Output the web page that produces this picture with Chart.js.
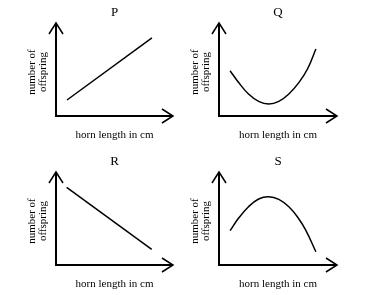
<!DOCTYPE html>
<html><head><meta charset="utf-8">
<script src="https://cdn.jsdelivr.net/npm/chart.js@4"></script>
<style>
html,body{margin:0;padding:0;background:#fff;}
#wrap{position:relative;width:370px;height:295px;background:#fff;}
canvas{position:absolute;}
</style></head><body>
<div id="wrap">
<canvas id="cP" style="left:0;top:0;width:185px;height:148px"></canvas>
<canvas id="cQ" style="left:185px;top:0;width:185px;height:148px"></canvas>
<canvas id="cR" style="left:0;top:148px;width:185px;height:147px"></canvas>
<canvas id="cS" style="left:185px;top:148px;width:185px;height:147px"></canvas>
</div>
<script>
const panelTitles = ['P', 'Q', 'R', 'S'];
const xAxisLabel = 'horn length in cm';
const yAxisLabel = ['number of', 'offspring'];

const hornP = [0.94, 8.2];
const offspringP = [1.72, 8.39];

const hornQ = [0.94, 1.65, 2.50, 3.36, 4.21, 5.07, 5.92, 6.78, 7.50, 8.21];
const offspringQ = [4.87, 3.62, 2.37, 1.58, 1.29, 1.58, 2.37, 3.62, 5.05, 7.20];

const hornR = [0.91, 8.18];
const offspringR = [8.35, 1.67];

const hornS = [0.94, 1.65, 2.50, 3.36, 4.21, 5.07, 5.92, 6.64, 7.35, 8.21];
const offspringS = [3.69, 5.02, 6.27, 7.10, 7.34, 7.06, 6.27, 5.19, 3.76, 1.43];

const panels = [
  {id: 'cP', title: panelTitles[0], xs: hornP, ys: offspringP, curved: false, w: 185, h: 148, pad: {left: 56, right: 12, top: 23, bottom: 32}},
  {id: 'cQ', title: panelTitles[1], xs: hornQ, ys: offspringQ, curved: true,  w: 185, h: 148, pad: {left: 34, right: 33, top: 23, bottom: 32}},
  {id: 'cR', title: panelTitles[2], xs: hornR, ys: offspringR, curved: false, w: 185, h: 147, pad: {left: 56, right: 12, top: 24, bottom: 30}},
  {id: 'cS', title: panelTitles[3], xs: hornS, ys: offspringS, curved: true,  w: 185, h: 147, pad: {left: 34, right: 33, top: 24, bottom: 30}}
];

const axesPlugin = {
  id: 'arrowAxes',
  afterDraw(chart, args, opts) {
    const {ctx, chartArea: a} = chart;
    ctx.save();
    ctx.strokeStyle = '#000';
    ctx.lineWidth = 2;
    ctx.lineJoin = 'miter';
    ctx.beginPath();
    ctx.moveTo(a.left, a.top);
    ctx.lineTo(a.left, a.bottom);
    ctx.lineTo(a.right, a.bottom);
    ctx.stroke();
    ctx.lineWidth = 1.5;
    ctx.beginPath();
    ctx.moveTo(a.left - 7, a.top + 11);
    ctx.lineTo(a.left, a.top);
    ctx.lineTo(a.left + 7, a.top + 11);
    ctx.moveTo(a.right - 11, a.bottom - 7);
    ctx.lineTo(a.right, a.bottom);
    ctx.lineTo(a.right - 11, a.bottom + 7);
    ctx.stroke();

    ctx.fillStyle = '#000';
    ctx.textAlign = 'center';
    ctx.textBaseline = 'middle';
    const cx = (a.left + a.right) / 2;
    ctx.font = '13px "Liberation Serif", "Times New Roman", serif';
    ctx.fillText(opts.title, cx, a.top - 10);
    ctx.font = '11px "Liberation Serif", "Times New Roman", serif';
    ctx.fillText(xAxisLabel, cx, a.bottom + 19);
    const cy = a.top + 49;
    ctx.save();
    ctx.translate(a.left - 24, cy);
    ctx.rotate(-Math.PI / 2);
    ctx.fillText(yAxisLabel[0], 0, 0);
    ctx.restore();
    ctx.save();
    ctx.translate(a.left - 13, cy);
    ctx.rotate(-Math.PI / 2);
    ctx.fillText(yAxisLabel[1], 0, 0);
    ctx.restore();
    ctx.restore();
  }
};

panels.forEach(p => {
  const el = document.getElementById(p.id);
  el.width = p.w; el.height = p.h;
  new Chart(el, {
    type: 'line',
    data: {
      datasets: [{
        data: p.xs.map((x, i) => ({x: x, y: p.ys[i]})),
        borderColor: '#000',
        borderWidth: 1.5,
        pointRadius: 0,
        fill: false,
        tension: p.curved ? 0.4 : 0,
        clip: false
      }]
    },
    options: {
      responsive: false,
      animation: false,
      devicePixelRatio: 1,
      layout: {padding: p.pad},
      plugins: {legend: {display: false}, tooltip: {enabled: false}, title: {display: false}, arrowAxes: {title: p.title}},
      scales: {
        x: {type: 'linear', min: 0, max: 10, display: false},
        y: {type: 'linear', min: 0, max: 10, display: false}
      }
    },
    plugins: [axesPlugin]
  });
});
</script>
</body></html>
